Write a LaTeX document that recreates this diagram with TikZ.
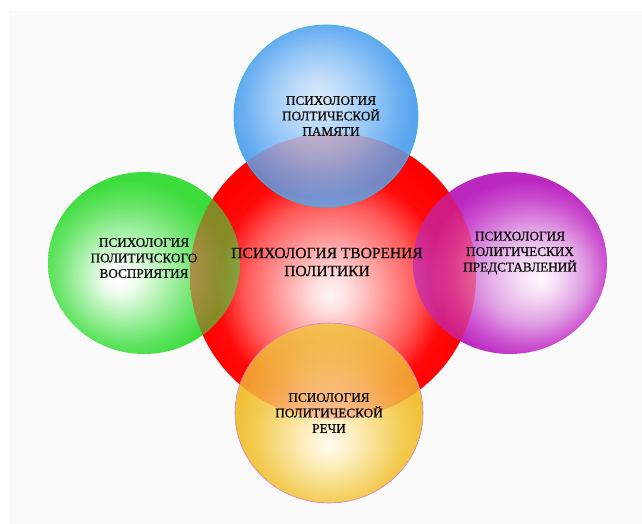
\documentclass[tikz,border=0pt]{standalone}
\usepackage{fontspec}
\newfontfamily\lab[FakeBold=1.1]{Liberation Serif}
\definecolor{panel}{HTML}{FAFAFB}
% red
\definecolor{rA}{HTML}{FFF4F4}\definecolor{rB}{HTML}{FFE0E0}\definecolor{rC}{HTML}{FFA8A8}
\definecolor{rD}{HTML}{FF5A5A}\definecolor{rE}{HTML}{FF0A0A}\definecolor{rF}{HTML}{FF0000}
% blue
\definecolor{bA}{HTML}{DCECFC}\definecolor{bB}{HTML}{C4DEFA}\definecolor{bC}{HTML}{98C8F6}
\definecolor{bD}{HTML}{6CB0F2}\definecolor{bE}{HTML}{58A4EE}
% green
\definecolor{gA}{HTML}{FFFFFF}\definecolor{gB}{HTML}{F2FDF2}\definecolor{gC}{HTML}{B0F2B0}
\definecolor{gD}{HTML}{66E466}\definecolor{gE}{HTML}{3CDC3C}
% purple
\definecolor{pA}{HTML}{FFF8FF}\definecolor{pB}{HTML}{F6DCF6}\definecolor{pC}{HTML}{E0A0E4}
\definecolor{pD}{HTML}{CC50D0}\definecolor{pE}{HTML}{BA28C0}
% yellow
\definecolor{yA}{HTML}{FFFCEE}\definecolor{yB}{HTML}{FEF2CC}\definecolor{yC}{HTML}{F8DE8A}
\definecolor{yD}{HTML}{F3CA50}\definecolor{yE}{HTML}{F0C038}
\definecolor{blueline}{HTML}{3FB4E0}
\definecolor{yellowline}{HTML}{D880C8}
\definecolor{txt}{HTML}{101010}

\pgfdeclareradialshading{redball}{\pgfpoint{-0.5bp}{-3.3bp}}{color(0bp)=(rA);color(3bp)=(rB);color(8bp)=(rC);color(15bp)=(rD);color(20bp)=(rE);color(25bp)=(rF);color(50bp)=(rF)}
\pgfdeclareradialshading{blueball}{\pgfpoint{-2.4bp}{5bp}}{color(0bp)=(bA);color(6bp)=(bB);color(14bp)=(bC);color(21bp)=(bD);color(25bp)=(bE);color(50bp)=(bE)}
\pgfdeclareradialshading{greenball}{\pgfpoint{-7bp}{-4.5bp}}{color(0bp)=(gA);color(4bp)=(gB);color(11bp)=(gC);color(19bp)=(gD);color(25bp)=(gE);color(50bp)=(gE)}
\pgfdeclareradialshading{purpleball}{\pgfpoint{8bp}{-4.5bp}}{color(0bp)=(pA);color(5bp)=(pB);color(13bp)=(pC);color(20bp)=(pD);color(25bp)=(pE);color(50bp)=(pE)}
\pgfdeclareradialshading{yellowball}{\pgfpoint{0bp}{-9bp}}{color(0bp)=(yA);color(5bp)=(yB);color(13bp)=(yC);color(20bp)=(yD);color(25bp)=(yE);color(50bp)=(yE)}

\tikzset{
  small label/.style={text=txt, align=center, font=\lab\fontsize{13.2}{15.5}\selectfont, inner sep=0pt},
  big label/.style={text=txt, align=center, font=\lab\fontsize{15.5}{18}\selectfont, inner sep=0pt},
}
\begin{document}
\begin{tikzpicture}[x=1pt,y=-1pt]
\useasboundingbox (0,0) rectangle (642,524);
\fill[white] (0,0) rectangle (642,524);
\fill[panel] (9,11) rectangle (642,524);

% central circle
\shade[shading=redball] (333,276) circle[radius=143];

% satellites
\shade[shading=blueball] (326,116) ellipse[x radius=92, y radius=91];
\shade[shading=greenball] (144,263) ellipse[x radius=96, y radius=91];
\shade[shading=purpleball] (510,263) ellipse[x radius=97, y radius=91];
\shade[shading=yellowball] (329,413) ellipse[x radius=94, y radius=90];

% overlaps: the red disc shows through
\begin{scope}
  \clip (326,116) ellipse[x radius=92, y radius=91];
  \shade[shading=redball, opacity=0.18] (333,276) circle[radius=143];
\end{scope}
\begin{scope}
  \clip (144,263) ellipse[x radius=96, y radius=91];
  \shade[shading=redball, opacity=0.38] (333,276) circle[radius=143];
\end{scope}
\begin{scope}
  \clip (510,263) ellipse[x radius=97, y radius=91];
  \shade[shading=redball, opacity=0.33] (333,276) circle[radius=143];
\end{scope}
\begin{scope}
  \clip (329,413) ellipse[x radius=94, y radius=90];
  \shade[shading=redball, opacity=0.2] (333,276) circle[radius=143];
\end{scope}

% outlines
\draw[blueline, line width=0.8pt] (326,116) ellipse[x radius=92, y radius=91];
\draw[yellowline, line width=0.6pt] (329,413) ellipse[x radius=94, y radius=90];

% labels
\node[big label] (centre) at (327,262) {ПСИХОЛОГИЯ ТВОРЕНИЯ\\ПОЛИТИКИ};
\node[small label] (memory) at (331,116) {ПСИХОЛОГИЯ\\ПОЛТИЧЕСКОЙ\\ПАМЯТИ};
\node[small label] (perception) at (144,258) {ПСИХОЛОГИЯ\\ПОЛИТИЧСКОГО\\ВОСПРИЯТИЯ};
\node[small label] (representations) at (520,253) {ПСИХОЛОГИЯ\\ПОЛИТИЧЕСКИХ\\ПРЕДСТАВЛЕНИЙ};
\node[small label] (speech) at (329,413) {ПСИОЛОГИЯ\\ПОЛИТИЧЕСКОЙ\\РЕЧИ};
\end{tikzpicture}
\end{document}
